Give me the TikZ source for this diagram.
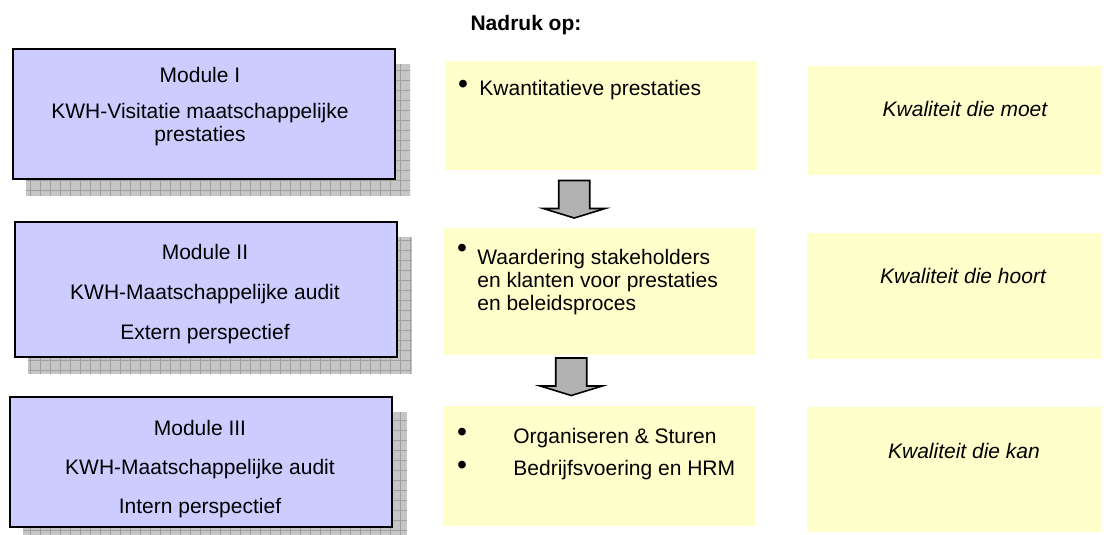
\documentclass[tikz,border=0pt]{standalone}
\usepackage{fontspec}
\setmainfont{Liberation Sans}
\usetikzlibrary{calc,backgrounds}

\definecolor{modblue}{HTML}{CCCCFF}
\definecolor{noteyellow}{HTML}{FFFFCC}
\definecolor{arrowgray}{HTML}{B2B2B2}
\definecolor{shadowgray}{HTML}{C6C6C6}

\tikzset{
  module/.style={draw, line width=1pt, fill=modblue, minimum width=191pt, minimum height=65pt, inner sep=0pt},
  note/.style={fill=noteyellow, inner sep=0pt},
  fatarr/.style={draw, line width=0.8pt, fill=arrowgray, line join=miter},
  txt/.style={anchor=base, inner sep=0pt, font=\fontsize{10.5}{12}\selectfont},
  bullet/.style={txt, scale=1.35},
}

% grey gridded shadow behind a module box
\newcommand{\modshadow}[1]{%
  \begin{scope}[on background layer]
    \fill[shadowgray] ($(#1.south west)+(14,16)$) rectangle ($(#1.north east)+(14,16)$);
    \begin{scope}
      \clip ($(#1.south west)+(14,16)$) rectangle ($(#1.north east)+(14,16)$);
      \draw[gray!75, line width=0.3pt, step=5pt] ($(#1.south west)+(14,16)$) grid ($(#1.north east)+(14,16)$);
    \end{scope}
  \end{scope}}

% block arrow between two notes
\newcommand{\fatarrow}[4]{%
  \draw[fatarr, shift={($(#1.south)!0.5!(#2.north)+(#3,#4)$)}]
    (-15.5,-18.5) -- (15.5,-18.5) -- (15.5,9.5) -- (31,9.5) -- (0,19) -- (-31,9.5) -- (-15.5,9.5) -- cycle;}

\begin{document}
\begin{tikzpicture}[x=0.5pt,y=-0.5pt]
\useasboundingbox (0,0) rectangle (1104,535);

\node[txt, font=\bfseries\fontsize{10.5}{12}\selectfont] (kop) at (526,31) {Nadruk op:};

% modules
\node[module] (mod1) at (204,114) {};
\node[module, minimum height=67.5pt] (mod2) at (205.5,289.5) {};
\node[module] (mod3) at (201,462) {};
\modshadow{mod1}
\modshadow{mod2}
\modshadow{mod3}

% multi-line nodes sit on their last baseline
\node[txt, align=center] (mod1txt) at (200,142) {Module I\\[5.5pt]KWH-Visitatie maatschappelijke\\prestaties};
\node[txt, align=center] (mod2txt) at (205,339) {Module II\\[8pt]KWH-Maatschappelijke audit\\[8pt]Extern perspectief};
\node[txt, align=center] (mod3txt) at (200,513) {Module III\\[7.5pt]KWH-Maatschappelijke audit\\[7.5pt]Intern perspectief};

% nadruk op
\node[note, minimum width=156pt, minimum height=54.5pt] (nadruk1) at (601,115.5) {};
\node[note, minimum width=155.5pt, minimum height=63.5pt] (nadruk2) at (599.5,291.5) {};
\node[note, minimum width=156pt, minimum height=60pt] (nadruk3) at (599,466) {};

\node[bullet] (bul1) at (463,94) {\textbullet};
\node[txt, anchor=base west] (nadruk1txt) at (479,96) {Kwantitatieve prestaties};
\node[bullet] (bul2) at (462,257) {\textbullet};
\node[txt, anchor=base west, align=left, font=\fontsize{10.5}{11.5}\selectfont] (nadruk2txt) at (477,310) {Waardering stakeholders\\en klanten voor prestaties\\en beleidsproces};
\node[bullet] (bul3) at (462,441) {\textbullet};
\node[txt, anchor=base west] (nadruk3txt) at (513,443) {Organiseren \& Sturen};
\node[bullet] (bul4) at (462,474) {\textbullet};
\node[txt, anchor=base west] (nadruk4txt) at (513,475) {Bedrijfsvoering en HRM};

\fatarrow{nadruk1}{nadruk2}{-26}{0}
\fatarrow{nadruk2}{nadruk3}{-28}{-4}

% kwaliteit
\node[note, minimum width=147pt, minimum height=54.5pt] (kwal1) at (955,120.5) {};
\node[note, minimum width=147.5pt, minimum height=63pt] (kwal2) at (954.5,296) {};
\node[note, minimum width=147.5pt, minimum height=62.5pt] (kwal3) at (954.5,469.5) {};

\node[txt, font=\itshape\fontsize{10.5}{12}\selectfont] (kwal1txt) at (965,117) {Kwaliteit die moet};
\node[txt, font=\itshape\fontsize{10.5}{12}\selectfont] (kwal2txt) at (963,284) {Kwaliteit die hoort};
\node[txt, font=\itshape\fontsize{10.5}{12}\selectfont] (kwal3txt) at (964,458) {Kwaliteit die kan};

\end{tikzpicture}
\end{document}
